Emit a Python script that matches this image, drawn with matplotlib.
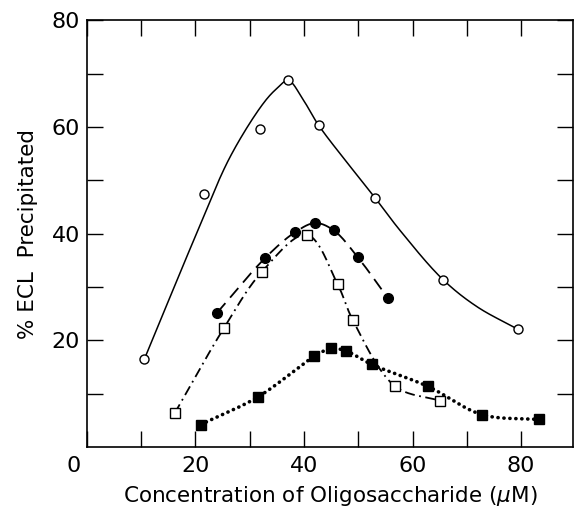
import numpy as np
import matplotlib
matplotlib.use('Agg')
import matplotlib.pyplot as plt
from matplotlib.transforms import ScaledTranslation

plt.rcParams['font.family'] = ['DejaVu Sans']

# open circles, solid line
oc_x = [10.6, 21.5, 31.9, 37.1, 42.7, 53.1, 65.6, 79.4]
oc_y = [16.5, 47.5, 59.6, 68.7, 60.3, 46.7, 31.4, 22.1]
# the hand-drawn solid curve does not pass through every circle
oc_curve_x = [10.6, 20.2, 26.4, 32.5, 35.0, 37.1, 39.9, 42.7, 48.5, 53.1, 57.7, 65.6, 71.9, 79.4]
oc_curve_y = [16.5, 40.0, 54.4, 64.4, 67.2, 68.7, 65.0, 60.3, 52.6, 46.7, 40.6, 31.4, 26.3, 22.1]

# filled circles, dashed line
fc_x = [24.0, 32.9, 38.4, 42.1, 45.5, 49.9, 55.4]
fc_y = [25.2, 35.5, 40.3, 42.0, 40.6, 35.6, 28.0]

# open squares, dash-dot line
os_x = [16.2, 25.3, 32.2, 40.5, 46.2, 49.0, 56.8, 65.0]
os_y = [6.4, 22.4, 32.8, 39.8, 30.5, 23.8, 11.4, 8.7]

# filled squares, dotted line
fs_x = [21.0, 31.5, 41.9, 45.0, 47.8, 52.5, 62.8, 72.8, 83.2]
fs_y = [4.25, 9.4, 17.0, 18.5, 18.0, 15.5, 11.4, 6.1, 5.2]


def smooth(xs, ys, n=30):
    # centripetal catmull-rom, just to draw the curve smoothly through the points
    p = np.column_stack([xs, ys]).astype(float)
    p = np.vstack([2 * p[0] - p[1], p, 2 * p[-1] - p[-2]])
    out = []
    for i in range(1, len(p) - 2):
        p0, p1, p2, p3 = p[i - 1], p[i], p[i + 1], p[i + 2]
        t0 = 0.0
        t1 = t0 + np.linalg.norm(p1 - p0) ** 0.5
        t2 = t1 + np.linalg.norm(p2 - p1) ** 0.5
        t3 = t2 + np.linalg.norm(p3 - p2) ** 0.5
        t = np.linspace(t1, t2, n)[:, None]
        a1 = (t1 - t) / (t1 - t0) * p0 + (t - t0) / (t1 - t0) * p1
        a2 = (t2 - t) / (t2 - t1) * p1 + (t - t1) / (t2 - t1) * p2
        a3 = (t3 - t) / (t3 - t2) * p2 + (t - t2) / (t3 - t2) * p3
        b1 = (t2 - t) / (t2 - t0) * a1 + (t - t0) / (t2 - t0) * a2
        b2 = (t3 - t) / (t3 - t1) * a2 + (t - t1) / (t3 - t1) * a3
        c = (t2 - t) / (t2 - t1) * b1 + (t - t1) / (t2 - t1) * b2
        out.append(c)
    out = np.vstack(out)
    return out[:, 0], out[:, 1]


fig = plt.figure(figsize=(5.75, 5.17), dpi=100)
ax = fig.add_axes([0.151, 0.135, 0.846, 0.826])

sx, sy = smooth(oc_curve_x, oc_curve_y)
ax.plot(sx, sy, color='black', lw=1.1, zorder=2)
ax.plot(oc_x, oc_y, 'o', ms=6.5, mfc='white', mec='black', mew=1.0, zorder=3)

sx, sy = smooth(fc_x, fc_y)
ax.plot(sx, sy, color='black', lw=1.3, dashes=(7, 4), zorder=2)
ax.plot(fc_x, fc_y, 'o', ms=7, color='black', zorder=3)

sx, sy = smooth(os_x, os_y)
ax.plot(sx, sy, color='black', lw=1.3, dashes=(5.5, 2.5, 1, 2.5), zorder=2)
ax.plot(os_x, os_y, 's', ms=6.5, mfc='white', mec='black', mew=1.0, zorder=3)

sx, sy = smooth(fs_x, fs_y)
ax.plot(sx, sy, color='black', lw=2.6, linestyle=(0, (0.05, 1.6)),
        dash_capstyle='round', zorder=2)
ax.plot(fs_x, fs_y, 's', ms=7.2, color='black', zorder=3)

ax.set_xlim(0, 89.6)
ax.set_ylim(0, 80)

ax.set_xticks([0, 20, 40, 60, 80])
ax.set_xticks([10, 30, 50, 70], minor=True)
ax.set_yticks([20, 40, 60, 80])
ax.set_yticks([10, 30, 50, 70], minor=True)
ax.set_yticklabels(['20', '40', '60', '80'])

for which in ('major', 'minor'):
    ax.tick_params(axis='both', which=which, direction='in', length=11.5, width=1.0,
                   top=True, right=True, labelsize=16, colors='black')
ax.tick_params(axis='x', which='major', pad=6)
ax.tick_params(axis='y', which='major', pad=5)

# the "0" of the x axis sits a little left of the corner
lab0 = ax.get_xticklabels()[0]
lab0.set_transform(lab0.get_transform() + ScaledTranslation(-0.135, 0, fig.dpi_scale_trans))

for s in ax.spines.values():
    s.set_linewidth(1.2)

ax.set_xlabel(r'Concentration of Oligosaccharide ($\mu$M)', fontsize=15.5, labelpad=6)
ax.set_ylabel('% ECL  Precipitated', fontsize=15.5, labelpad=10)

fig.savefig('out.png', dpi=100)
